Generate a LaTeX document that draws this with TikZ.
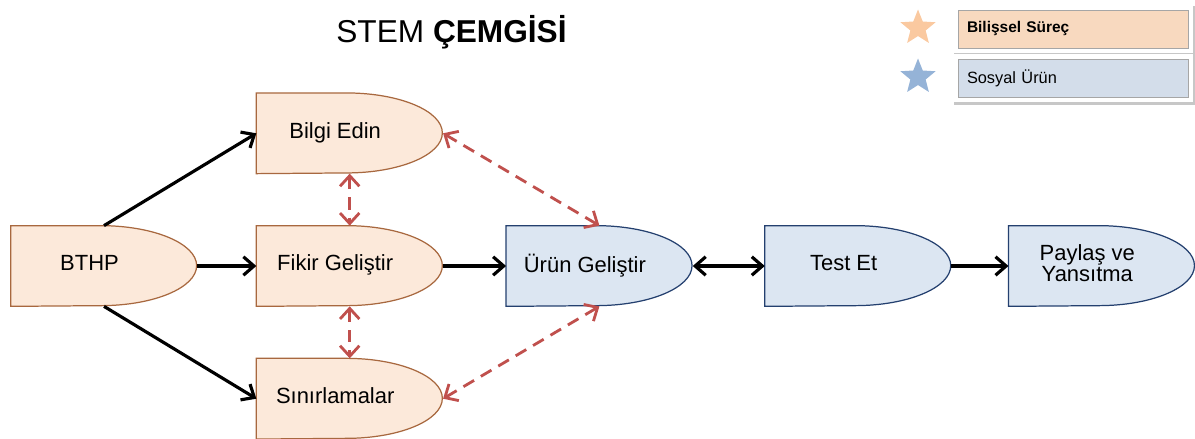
\documentclass[tikz,border=0pt]{standalone}
\usepackage{fontspec}
\setmainfont{Liberation Sans}
\usepackage{xcolor}
\definecolor{cogfill}{HTML}{FCE9DA}
\definecolor{cogline}{HTML}{A8683F}
\definecolor{socfill}{HTML}{DCE6F2}
\definecolor{socline}{HTML}{24406F}
\definecolor{redarr}{HTML}{C0504D}
\definecolor{legorange}{HTML}{F8D9BF}
\definecolor{legblue}{HTML}{D3DDEA}
\definecolor{starorange}{HTML}{FAC9A0}
\definecolor{starblue}{HTML}{95B3D7}
\usepackage{tikz}
\usetikzlibrary{
  arrows.meta,
  positioning,
  shapes.geometric,
  backgrounds
}
% text of a D-shaped box, pushed a little to the left
\newcommand{\dtxt}[1]{\hspace*{-5.8mm}{\renewcommand{\arraystretch}{0.8}\begin{tabular}{@{}c@{}}#1\end{tabular}}}

\begin{document}
\begin{tikzpicture}[
  dbox/.style={rectangle, minimum width=3.72cm, minimum height=1.6cm, inner sep=0pt, font=\fontsize{12.5}{15}\selectfont},
  cogshape/.style={fill=cogfill, draw=cogline, line width=0.7pt},
  socshape/.style={fill=socfill, draw=socline, line width=0.7pt},
  arr/.style={-{Straight Barb[length=6pt, width=10.5pt]}, line width=1.8pt, black},
  darr/.style={{Straight Barb[length=6pt, width=10.5pt]}-{Straight Barb[length=6pt, width=10.5pt]}, line width=1.8pt, black},
  rarr/.style={{Straight Barb[length=6pt, width=11pt]}-{Straight Barb[length=6pt, width=11pt]}, line width=1.6pt, redarr, dash pattern=on 7pt off 4.5pt},
  legbox/.style={rectangle, draw=black!35, line width=0.5pt, minimum height=0.76cm, text width=4.24cm, inner xsep=0.18cm, align=left,
    preaction={draw=black!22, line width=7pt, transform canvas={xshift=1pt, yshift=-1.2pt}},
    preaction={draw=white, line width=6pt}},
  legstar/.style={star, star points=5, star point ratio=2.3, minimum size=0.74cm, inner sep=0pt},
]
\useasboundingbox (0,0) rectangle (23.9,-8.78);

% Title
\node[anchor=base, font=\fontsize{18}{22}\selectfont] (title) at (9.03,-0.86) {STEM \textbf{ÇEMGİSİ}};

% Process boxes
\node[dbox] (bthp) at (2.08,-5.32) {\dtxt{BTHP}};
\node[dbox, right=1.18cm of bthp] (fikir) {\dtxt{Fikir Geliştir}};
\node[dbox, above=1.04cm of fikir] (bilgi) {\dtxt{Bilgi Edin}};
\node[dbox, below=1.04cm of fikir] (sinir) {\dtxt{Sınırlamalar}};
\node[dbox, right=1.26cm of fikir] (urun) {\dtxt{Ürün Geliştir}};
\node[dbox, right=1.44cm of urun] (test) {\dtxt{Test Et}};
\node[dbox, right=1.14cm of test] (paylas) {\dtxt{Paylaş ve\\Yansıtma}};

% D outlines behind the texts
\begin{scope}[on background layer]
\foreach \n in {bthp,bilgi,fikir,sinir}
  \path[cogshape] (\n.north west) -- ++(1.8,0) arc[start angle=90, end angle=-90, x radius=1.92cm, y radius=0.8cm] -- (\n.south west) -- cycle;
\foreach \n in {urun,test,paylas}
  \path[socshape] (\n.north west) -- ++(1.8,0) arc[start angle=90, end angle=-90, x radius=1.92cm, y radius=0.8cm] -- (\n.south west) -- cycle;
\end{scope}

% Legend
\node[legstar, fill=starorange] (staro) at (18.36,-0.56) {};
\node[legstar, fill=starblue] (starb) at (18.36,-1.54) {};
\node[legbox, fill=legorange, font=\fontsize{8.8}{10}\selectfont\bfseries] (lcog) at (21.46,-0.58) {Bilişsel Süreç};
\node[legbox, fill=legblue, font=\fontsize{9.3}{11}\selectfont] (lsoc) at (21.46,-1.56) {Sosyal Ürün};

% Connectors
\draw[arr] (bthp.north) -- (bilgi.west);
\draw[arr] (bthp.east) -- (fikir.west);
\draw[arr] (bthp.south) -- (sinir.west);
\draw[arr] (fikir.east) -- (urun.west);
\draw[darr] (urun.east) -- (test.west);
\draw[arr] (test.east) -- (paylas.west);

\draw[rarr] (bilgi.south) -- (fikir.north);
\draw[rarr] (fikir.south) -- (sinir.north);
\draw[rarr] (bilgi.east) -- (urun.north);
\draw[rarr] (sinir.east) -- (urun.south);

\end{tikzpicture}
\end{document}
